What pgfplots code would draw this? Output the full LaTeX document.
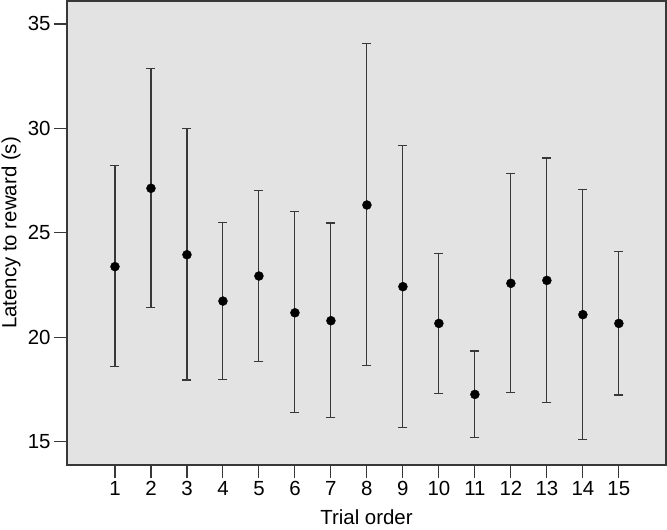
\documentclass[border=0pt]{standalone}
\usepackage{fontspec}
\setmainfont{Liberation Sans}
\usepackage{pgfplots}
\usepackage{pgfplotstable}
\pgfplotsset{compat=1.18}
\definecolor{bg}{HTML}{E3E3E3}
\definecolor{ln}{HTML}{383838}

\pgfplotstableread{
x  y      hi     lo
1  23.38  28.21  18.60
2  27.13  32.86  21.41
3  23.95  29.99  17.95
4  21.73  25.50  17.97
5  22.93  27.03  18.83
6  21.17  26.00  16.39
7  20.79  25.47  16.15
8  26.33  34.06  18.64
9  22.42  29.17  15.67
10 20.66  24.02  17.31
11 17.26  19.34  15.19
12 22.58  27.82  17.34
13 22.72  28.58  16.88
14 21.08  27.06  15.12
15 20.66  24.11  17.23
}\datatable

\begin{document}
\begin{tikzpicture}
\path[use as bounding box] (-67bp,-65bp) rectangle (600bp,465bp);
\begin{axis}[
  at={(0,0)}, anchor=south west,
  scale only axis, width=599bp, height=464bp,
  xmin=-0.333, xmax=16.31, ymin=13.88, ymax=36.1,
  axis background/.style={fill=bg},
  axis line style={draw=ln, line width=1.1bp},
  xtick={1,...,15}, ytick={15,20,...,35},
  tick align=outside, major tick length=13bp,
  tick style={draw=ln, line width=1.1bp},
  xtick pos=bottom, ytick pos=left,
  tick label style={font=\fontsize{20.5}{20}\selectfont},
  /pgf/number format/assume math mode=true,
  xlabel={Trial order}, ylabel={Latency to reward (s)},
  label style={font=\fontsize{20.5}{20}\selectfont},
  xlabel style={at={(axis description cs:0.5,0)}, anchor=center, yshift=-52bp},
  ylabel style={at={(axis description cs:-0.0935,0.5)}, anchor=center},
  clip=false,
]
\addplot[only marks, mark=*, mark size=4.5bp, black,
  error bars/.cd, y dir=both, y explicit,
  error bar style={ln, line width=1.1bp},
  error mark options={rotate=90, mark size=4.5bp, ln, line width=1.1bp}]
  table[x=x, y=y, y error plus expr=\thisrow{hi}-\thisrow{y}, y error minus expr=\thisrow{y}-\thisrow{lo}] {\datatable};
\end{axis}
\end{tikzpicture}
\end{document}
